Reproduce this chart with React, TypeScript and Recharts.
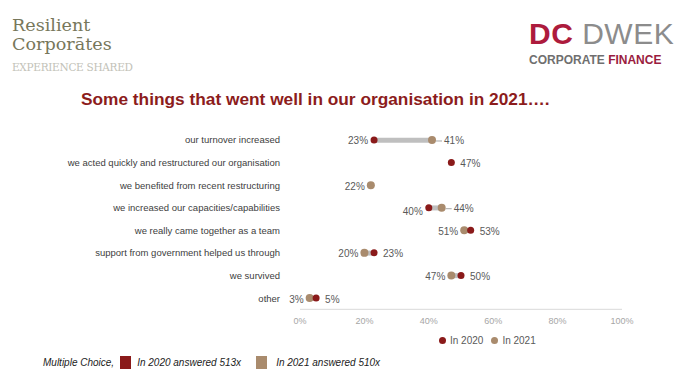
import React from 'react';
import { ComposedChart, XAxis, YAxis, Bar, Line } from 'recharts';

const categories = [
  'our turnover increased',
  'we acted quickly and restructured our organisation',
  'we benefited from recent restructuring',
  'we increased our capacities/capabilities',
  'we really came together as a team',
  'support from government helped us through',
  'we survived',
  'other',
];
const values2020: (number | null)[] = [23, 47, null, 40, 53, 23, 50, 5];
const values2021: (number | null)[] = [41, null, 22, 44, 51, 20, 47, 3];
const xTicks = [0, 20, 40, 60, 80, 100];
const seriesNames = ['In 2020', 'In 2021'];
const footerNotes = ['In 2020 answered 513x', 'In 2021 answered 510x'];

const RED = '#8a1a1a';
const TAN = '#a98b6d';
const LABEL = '#595959';

const data = categories.map((label, i) => {
  const a = values2020[i];
  const b = values2021[i];
  return {
    label,
    v2020: a,
    v2021: b,
    range: a != null && b != null ? [Math.min(a, b), Math.max(a, b)] : null,
  };
});

const makeDot = (key: string, other: string, color: string, r: number, isTan: boolean) => (props: any) => {
  const { cx, cy, payload, index } = props;
  const v = payload ? payload[key] : null;
  if (v == null || cx == null || cy == null || isNaN(cx)) return <g key={`${key}-${index}`} />;
  const o = payload[other];
  const side = o == null ? (isTan ? 'left' : 'right') : v < o ? 'left' : 'right';
  const leader = isTan && side === 'right';
  const lowered = side === 'left' && o != null && Math.abs(o - v) < 5 && v < o && !isTan;
  const tx = side === 'left' ? cx - 6 : leader ? cx + 12 : cx + 9;
  const ty = cy + (lowered ? 4 : 1);
  return (
    <g key={`${key}-${index}`}>
      {leader && <line x1={cx + r} x2={cx + 10} y1={cy + 1} y2={cy + 1} stroke="#a6a6a6" strokeWidth={1} />}
      <circle cx={cx} cy={cy} r={r} fill={color} />
      <text
        x={tx}
        y={ty}
        textAnchor={side === 'left' ? 'end' : 'start'}
        dominantBaseline="central"
        fontSize={10}
        fontFamily="Liberation Sans, Arial, sans-serif"
        fill={LABEL}
      >
        {v}%
      </text>
    </g>
  );
};

const CategoryTick = (props: any) => {
  const { x, y, payload } = props;
  return (
    <text
      x={x}
      y={y}
      textAnchor="end"
      dominantBaseline="central"
      fontSize={9.5}
      fill="#404040"
      fontFamily="Liberation Sans Narrow, Arial Narrow, sans-serif"
    >
      {payload.value}
    </text>
  );
};

const logoLine: React.CSSProperties = {
  position: 'absolute',
  left: 12,
  fontFamily: 'DejaVu Serif, serif',
  color: '#77775b',
  fontSize: 16,
  lineHeight: '19px',
  whiteSpace: 'nowrap',
  transform: 'scaleX(1.1)',
  transformOrigin: 'left center',
};

export default function App() {
  return (
    <div style={{ position: 'absolute', left: 0, top: 0, width: 685, height: 385, background: '#fff', overflow: 'hidden' }}>
      {/* Left logo */}
      <div style={{ ...logoLine, top: 16 }}>Resilient</div>
      <div style={{ ...logoLine, top: 35 }}>Corporātes</div>
      <div style={{ position: 'absolute', left: 12, top: 62, fontFamily: 'DejaVu Serif, serif', fontSize: 10.5, lineHeight: '10.5px', letterSpacing: -0.3, color: '#c2c2b8', whiteSpace: 'nowrap' }}>EXPERIENCE SHARED</div>
      {/* Right logo */}
      <div style={{ position: 'absolute', left: 529, top: 17, fontFamily: 'Liberation Sans, Arial, sans-serif' }}>
        <div style={{ fontSize: 30, lineHeight: '34px', letterSpacing: 0.5 }}>
          <span style={{ color: '#ad1b3d', fontWeight: 700 }}>DC</span>
          <span style={{ color: '#8c8c8c' }}> DWEK</span>
        </div>
        <div style={{ fontSize: 12, fontWeight: 700, lineHeight: '16px', marginTop: 1 }}>
          <span style={{ color: '#6f6f6f' }}>CORPORATE </span>
          <span style={{ color: '#9a1c40' }}>FINANCE</span>
        </div>
      </div>
      {/* Title */}
      <div style={{ position: 'absolute', left: 81, top: 89, fontFamily: 'Liberation Sans, Arial, sans-serif', fontWeight: 700, fontSize: 17.3, color: '#8c1c1c', whiteSpace: 'nowrap' }}>
        Some things that went well in our organisation in 2021….
      </div>
      {/* Chart */}
      <div style={{ position: 'absolute', left: 0, top: 0 }}>
        <ComposedChart
          width={685}
          height={385}
          layout="vertical"
          data={data}
          margin={{ top: 128.7, right: 63, bottom: 45.7, left: 0 }}
        >
          <XAxis
            type="number"
            domain={[0, 100]}
            ticks={xTicks}
            tickFormatter={(v: number) => `${v}%`}
            axisLine={{ stroke: '#d9d9d9' }}
            tickLine={false}
            tick={{ fontSize: 9, fill: '#a6a6a6', fontFamily: 'Liberation Sans, Arial, sans-serif' }}
            height={30}
          />
          <YAxis
            type="category"
            dataKey="label"
            width={300}
            axisLine={false}
            tickLine={false}
            tickMargin={14}
            interval={0}
            tick={<CategoryTick />}
          />
          <Bar dataKey="range" barSize={5} fill="#bfbfbf" isAnimationActive={false} />
          <Line dataKey="v2021" stroke="none" dot={makeDot('v2021', 'v2020', TAN, 4, true)} activeDot={false} isAnimationActive={false} />
          <Line dataKey="v2020" stroke="none" dot={makeDot('v2020', 'v2021', RED, 3.5, false)} activeDot={false} isAnimationActive={false} />
        </ComposedChart>
      </div>
      {/* Legend */}
      <div style={{ position: 'absolute', left: 439, top: 335, fontFamily: 'Liberation Sans, Arial, sans-serif', fontSize: 10, color: LABEL, display: 'flex', alignItems: 'center', whiteSpace: 'nowrap' }}>
        {seriesNames.map((n, i) => (
          <span key={n} style={{ display: 'flex', alignItems: 'center', marginRight: 8 }}>
            <span style={{ display: 'inline-block', width: 7, height: 7, borderRadius: '50%', background: i === 0 ? RED : TAN, marginRight: 4 }} />
            {n}
          </span>
        ))}
      </div>
      {/* Footer */}
      <div style={{ position: 'absolute', left: 43, top: 356, fontFamily: 'Liberation Sans, Arial, sans-serif', fontStyle: 'italic', fontSize: 10, color: '#222', display: 'flex', alignItems: 'center', whiteSpace: 'nowrap' }}>
        <span style={{ marginRight: 6 }}>Multiple Choice,</span>
        {footerNotes.map((n, i) => (
          <span key={n} style={{ display: 'flex', alignItems: 'center', marginRight: i === 0 ? 15 : 0 }}>
            <span style={{ display: 'inline-block', width: 11, height: 13, background: i === 0 ? RED : TAN, marginRight: i === 0 ? 6 : 9 }} />
            {n}
          </span>
        ))}
      </div>
    </div>
  );
}
